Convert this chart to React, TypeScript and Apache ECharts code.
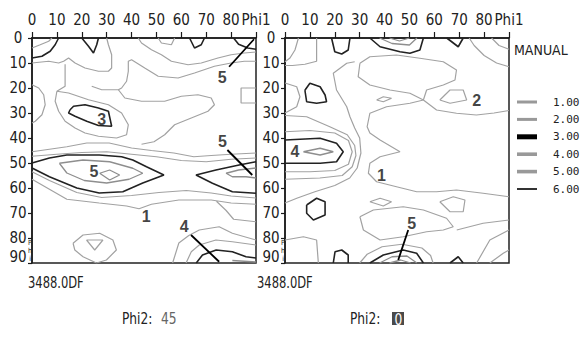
import React, { useEffect, useRef } from 'react';
import * as echarts from 'echarts';

type Pt = [number, number];
type Poly = Pt[];

const NARROW = '"DejaVu Sans Condensed", "Liberation Sans Narrow", "Liberation Sans", sans-serif';
const MONO = '"DejaVu Sans Mono", "Liberation Mono", monospace';

// ---- texts / ticks ----
const levelNames = ['1.00', '2.00', '3.00', '4.00', '5.00', '6.00'];
const phi1AxisName = 'Phi1';
const phiAxisName = 'Phi';
const legendTitle = 'MANUAL';
const panelCaption = '3488.0DF';
const phi2Label = 'Phi2:';
const phi2Values = ['45', '0'];

// ---- left section (Phi2 = 45) contour polylines [phi1, Phi] ----
const left1: Poly[] = [
  [[0, 4], [3.3, 2.7], [6.7, 1.3], [8, 0]],
  [[0, 10], [6.7, 9.3], [10.7, 10], [12.7, 9.3], [14.7, 8], [17.3, 10], [21.3, 12], [26.7, 13.3], [30.7, 13.3], [32, 12], [32, 6.7], [30.7, 2.7], [30, 0]],
  [[42.7, 0], [44, 2], [48, 4.7], [52, 6.7], [56, 9.3], [62.7, 10.7], [68, 10], [74.7, 8], [80, 6.7], [85.3, 6], [90, 5.6]],
  [[50.7, 0], [52, 2], [56, 2.7], [57.3, 0]],
  [[0, 18.7], [2.7, 20], [4.7, 22.7], [5.3, 26.7], [4, 30.7], [1.3, 33.3], [0, 34]],
  [[24, 19.3], [28, 20.7], [34.7, 20.7], [36, 20], [38, 17.3], [38.7, 13.3], [38.7, 9.3], [40, 8.7], [45.3, 12], [50.7, 15.3], [58.7, 16], [65.3, 14], [73.3, 11.3], [80, 10], [85.3, 9.3], [90, 9.3]],
  [[90, 20], [84, 20], [84, 26], [90, 26]],
  [[0, 47.3], [10, 46.5], [20, 45.8], [30, 45.5], [40, 46.5], [50, 47.5], [60, 49], [70, 49.5], [80, 48.5], [90, 48]],
  [[0, 56.5], [14, 64.5], [27, 66], [38, 67.2], [43, 68.3], [48, 66.5], [59, 64.8], [72, 64.8], [80, 66], [90, 66.5]],
  [[74, 65.2], [78, 69], [81, 72.5], [90, 73.5]],
  [[56.5, 90], [59, 82], [63, 79], [67.2, 76.8], [75.2, 75.5], [80.5, 78.1], [90, 80.8]],
  [[16.5, 82.1], [20.5, 78.8], [27.2, 78.1], [32.5, 80.8], [33.9, 84.8], [29.9, 88.8], [25.9, 90], [20.5, 87.5], [17.2, 84.8], [16.5, 82.1]],
];
const left2: Poly[] = [
  [[13.3, 10.5], [13.3, 19.3], [10, 21.3], [14.7, 22], [22.7, 24.7], [30.7, 26.7], [36, 30], [38.7, 34.7], [38, 38.7], [34, 40], [26.7, 39.3], [21.3, 38], [17.3, 36], [13.3, 33.3], [10.7, 29.3], [9.3, 25.3], [10, 21.3]],
  [[34.7, 20.7], [37.3, 24], [44, 25.3], [53.3, 25.3], [60, 23.3], [66.7, 22.7], [72, 24], [73.3, 26.7], [70.7, 29.3], [64, 32], [57.3, 34.7], [53.3, 38.7], [49, 41.5], [44, 42.5]],
  [[0, 45.5], [7, 44.5], [14, 43.5], [22, 42], [31, 42], [40, 44], [48, 45], [57, 46], [65, 47.5], [72, 47], [80, 46.5], [90, 46]],
  [[0, 53.5], [7, 57], [18, 61.8], [28, 63.8], [40, 63], [51, 61.8], [62, 61], [72, 62], [80, 63.2], [90, 64]],
  [[61.9, 90], [64, 85.5], [67.2, 82.8], [73.9, 80.8], [80.5, 81.5], [90, 82.8]],
  [[21.9, 80.8], [28.5, 80.8], [25.2, 84.8], [21.9, 80.8]],
];
const left3: Poly[] = [
  [[0, 8], [4, 7.3], [7.3, 5.3], [9.3, 2.7], [10.7, 0]],
  [[20, 0], [22.7, 3.3], [24.7, 6], [26, 2.7], [26.7, 0]],
  [[63.3, 0], [65.3, 4], [68, 2.7], [69.3, 0]],
  [[81, 0], [83, 2.5], [86.7, 4], [90, 4.5]],
  [[15.3, 28.7], [16.7, 27.3], [21.3, 26.7], [26.7, 28], [30.7, 29.3], [32, 35.3], [26.7, 35], [22, 33.3], [17.3, 31.3], [14.7, 30], [15.3, 28.7]],
  [[0, 50], [7, 48], [14, 46.8], [27, 46.8], [36, 47.5], [40.5, 48.8], [46, 51.5], [53, 54.8], [44.5, 58], [36.5, 61.5], [27, 62], [18, 60], [7, 55.5], [0, 52]],
  [[90, 49.5], [83.2, 50.8], [73.9, 52.8], [65.9, 54.8], [72.5, 58.1], [80.5, 61.5], [90, 62.1]],
  [[66, 90], [68.5, 86.8], [74, 84.8], [80.5, 85.5], [86, 87.5], [90, 88]],
];
const left4: Poly[] = [
  [[11, 50.1], [20.5, 48.8], [31.2, 49.5], [40.5, 52.1], [44.5, 54.1], [39, 56.5], [30, 58], [21, 57], [14, 54], [11, 50.1]],
  [[90, 52], [83, 52.8], [78, 54.1], [80.5, 55.5], [86, 55.5], [90, 56]],
  [[80.5, 89], [90, 89.6]],
];
const left5: Poly[] = [
  [[27.2, 54.1], [31.2, 52.8], [35.2, 54.8], [31.2, 56.8], [27.2, 54.1]],
];
const leftLeaders: Poly[] = [
  [[79.2, 11.5], [89.2, 0.5]],
  [[78.5, 44.8], [88.5, 54.8]],
  [[63.9, 78.8], [75.2, 89.5]],
];
const leftLabels: [number, number, string][] = [
  [76.4, 15.6, '5'], [28, 32.4, '3'], [24.9, 53.5, '5'], [76.5, 41.5, '5'], [45.9, 71.2, '1'], [61.2, 75.5, '4'],
];

// ---- right section (Phi2 = 0) ----
const right1: Poly[] = [
  [[12.7, 0], [12.7, 5], [12.7, 9.3], [8, 10.5], [3, 11], [0, 11]],
  [[28, 9.5], [24.8, 10.1], [19.4, 14.1], [20.7, 20.8], [24.8, 27.5], [26.1, 31.5], [28, 36], [30, 40], [30.5, 46], [29, 52], [26, 56], [20, 59], [12, 61.5], [5, 64], [0, 66]],
  [[0, 31], [8.7, 31.5], [18, 35.5], [25, 38.7], [28, 43], [28.5, 47], [27, 51.5], [23, 55], [14, 56], [0, 56.5]],
  [[30.1, 10.1], [29.4, 15.5], [34.1, 18.8], [42.2, 20.8], [50.2, 22.1], [55.6, 24.8], [60.9, 28.8], [68.9, 30.1], [76.9, 30.8], [84, 30], [90, 29]],
  [[30.1, 10.1], [34.1, 7.5], [44.8, 6.8], [54.2, 8.1], [63.6, 9.5], [68.9, 12.8], [68.3, 16.8], [63.6, 18.8], [56.9, 20.8], [55.6, 24.8], [50.2, 26.1], [40.8, 27.5], [34.1, 30.1], [33, 35.5], [34.1, 38], [38.2, 40.8], [46.2, 45.5], [38.2, 47.5], [34.1, 50.1], [33.5, 54.1], [36.8, 57.5], [44.8, 59.5], [52.9, 61.5], [60.9, 61.5], [68.9, 60.8], [79.6, 62.1], [90, 63.5]],
  [[74, 0], [76, 3], [80, 7], [85, 10], [90, 11.5]],
  [[30.1, 71.5], [35.5, 68.8], [47.5, 67.5], [55.6, 68.8], [64.9, 72.1], [67.6, 75.5], [63.6, 76.8], [56.9, 77.5], [47.5, 79.5], [38.2, 80.8], [31.5, 76.8], [30.1, 71.5]],
  [[0, 80.8], [7.4, 79.5], [12.7, 80.8], [13.4, 90]],
  [[77, 90], [82.3, 80.8], [90, 76.8]],
  [[82.3, 90], [87.7, 86.1], [90, 84.8]],
];
const right2: Poly[] = [
  [[5.4, 0], [4, 4.8], [2, 8], [0, 9.5]],
  [[83, 0], [86, 3], [90, 4.5]],
  [[0, 18], [4.7, 19.5], [6, 23.5], [4.7, 27.5], [0, 30]],
  [[0, 37.5], [10, 37], [20, 38], [25.5, 41], [27, 45.5], [25.5, 50.5], [20, 53], [10, 53.5], [0, 53.5]],
  [[36.8, 24.8], [39.5, 23.5], [42.8, 24.1], [39.5, 25.5], [36.8, 24.8]],
  [[62.2, 24.8], [66.3, 20.8], [71.6, 20.8], [73, 24.8], [66.3, 26.1], [62.2, 24.8]],
  [[34.1, 65.5], [38.2, 64.1], [42.8, 65.5], [39.5, 67.2], [34.1, 65.5]],
  [[62.2, 65.5], [67.6, 63.5], [72.3, 64.8], [71.6, 69.5], [66.3, 69.5], [62.2, 65.5]],
  [[30, 90], [33, 86.5], [39, 83.5], [47, 82.5], [55, 84], [58.5, 87], [59.5, 90]],
  [[69, 76.8], [79.6, 74.1], [90, 72.8]],
];
const right3: Poly[] = [
  [[18.7, 0], [20, 5.5], [22.8, 6.4], [25.4, 4.8], [26.1, 0]],
  [[34.1, 0], [38.2, 3.5], [46.2, 5.5], [50.2, 6.1], [54.2, 4.8], [55.6, 0]],
  [[65, 0], [69.6, 3.5], [71.6, 0]],
  [[8, 20.9], [10, 18.1], [14.1, 19.5], [16.1, 22.8], [16.7, 25.5], [12.7, 26.1], [8.7, 25.5], [8, 20.9]],
  [[0, 40.8], [14.1, 40.1], [20.7, 42.1], [23.4, 45.5], [20.7, 49.5], [14.1, 50.1], [0, 50.1]],
  [[8.7, 66.8], [12.7, 64.1], [16.1, 65.5], [16.1, 70.8], [11.4, 72.8], [8.7, 70.1], [8.7, 66.8]],
  [[34.1, 90], [39.5, 86.8], [47.5, 84.8], [52.9, 86.1], [55.6, 90]],
  [[19.4, 90], [20.1, 85.5], [22.8, 84.8], [25.4, 86.8], [25.4, 90]],
  [[66.3, 90], [69.6, 87.5], [71.6, 90]],
];
const right4: Poly[] = [
  [[38, 0], [43, 2.2], [50, 2.8], [53, 0]],
  [[7.4, 45.5], [14.1, 44.1], [19.4, 45.5], [14.1, 46.8], [7.4, 45.5]],
  [[38, 90], [43, 87.5], [49, 87.2], [53, 90]],
];
const right5: Poly[] = [
  [[42, 0], [46, 1.2], [50, 0]],
  [[42, 90], [46.5, 88.8], [50.5, 90]],
];
const rightLeaders: Poly[] = [
  [[49.5, 76.8], [45.5, 88.8]],
];
const rightLabels: [number, number, string][] = [
  [77, 24.8, '2'], [4, 45.5, '4'], [38.8, 54.8, '1'], [50.9, 74.1, '5'],
];

const panels = [
  { levels: [left1, left2, left3, left4, left5, []], leaders: leftLeaders, labels: leftLabels },
  { levels: [right1, right2, right3, right4, right5, []], leaders: rightLeaders, labels: rightLabels },
];

const levelStyle = [
  { color: '#a2a2a2', width: 1.2 },
  { color: '#a2a2a2', width: 1.2 },
  { color: '#222222', width: 1.6 },
  { color: '#8e8e8e', width: 1.3 },
  { color: '#8e8e8e', width: 1.3 },
  { color: '#333333', width: 1.2 },
];
const legendStyle = [
  { color: '#999999', path: 'path://M0,0M0,2.5H20V5.5H0ZM20,8' },
  { color: '#999999', path: 'path://M0,0M0,2.5H20V5.5H0ZM20,8' },
  { color: '#000000', path: 'path://M0,0M0,1.5H20V6.5H0ZM20,8' },
  { color: '#999999', path: 'path://M0,0M0,2.2H20V5.8H0ZM20,8' },
  { color: '#999999', path: 'path://M0,0M0,2.2H20V5.8H0ZM20,8' },
  { color: '#333333', path: 'path://M0,0M0,3H20V5H0ZM20,8' },
];

function joinPolys(polys: Poly[]): any[] {
  const out: any[] = [];
  polys.forEach((p, i) => {
    if (i > 0) out.push(['-', '-']);
    p.forEach((pt) => out.push(pt));
  });
  return out;
}

const grids = [
  { left: 32, top: 38, width: 224, height: 225 },
  { left: 285, top: 38, width: 224, height: 225 },
];

function buildOption(): any {
  const series: any[] = [];
  panels.forEach((panel, gi) => {
    panel.levels.forEach((polys, li) => {
      series.push({
        type: 'line',
        name: levelNames[li],
        xAxisIndex: gi,
        yAxisIndex: gi,
        data: joinPolys(polys as Poly[]),
        symbol: 'none',
        showSymbol: false,
        connectNulls: false,
        silent: true,
        color: levelStyle[li].color,
        lineStyle: { color: levelStyle[li].color, width: levelStyle[li].width },
        z: 2 + (li === 2 ? 1 : 0),
      });
    });
    series.push({
      type: 'line',
      name: 'leader',
      xAxisIndex: gi,
      yAxisIndex: gi,
      data: joinPolys(panel.leaders),
      symbol: 'none',
      silent: true,
      lineStyle: { color: '#000', width: 1.8 },
      z: 5,
    });
    series.push({
      type: 'scatter',
      name: 'labels',
      xAxisIndex: gi,
      yAxisIndex: gi,
      data: panel.labels.map((l) => ({ value: [l[0], l[1]], name: l[2] })),
      symbolSize: 1,
      itemStyle: { color: 'rgba(0,0,0,0)' },
      silent: true,
      z: 6,
      label: {
        show: true,
        position: 'inside',
        formatter: '{b}',
        fontFamily: '"Liberation Sans", Arial, sans-serif',
        fontWeight: 'bold',
        fontSize: 16,
        color: '#111',
      },
    });
  });

  const axisColor = '#1a1a1a';
  const xAxis = grids.map((_, i) => ({
    type: 'value',
    gridIndex: i,
    position: 'top',
    min: 0,
    max: 90,
    interval: 10,
    axisLine: { show: true, onZero: false, lineStyle: { color: axisColor, width: 1.5 } },
    axisTick: { show: true, length: 6, lineStyle: { color: axisColor, width: 1.2 } },
    splitLine: { show: false },
    axisLabel: {
      margin: 11,
      color: '#222',
      fontFamily: NARROW,
      fontSize: 15,
      showMinLabel: true,
      showMaxLabel: true,
      hideOverlap: false,
      formatter: (v: number) => (v === 90 ? phi1AxisName : String(v)),
    },
  }));
  const yAxis = grids.map((_, i) => ({
    type: 'value',
    gridIndex: i,
    inverse: true,
    min: 0,
    max: 90,
    interval: 10,
    axisLine: { show: true, onZero: false, lineStyle: { color: axisColor, width: 1.5 } },
    axisTick: { show: true, length: 4, lineStyle: { color: axisColor, width: 1.2 } },
    splitLine: { show: false },
    axisLabel: {
      margin: 14,
      align: 'center',
      color: '#222',
      fontFamily: NARROW,
      fontSize: 15,
      showMinLabel: true,
      showMaxLabel: true,
      formatter: (v: number) => (v === 90 ? `{b|${v}}` : String(v)),
      rich: { b: { padding: [0, 0, 12, 0], fontFamily: NARROW, fontSize: 15, color: '#222' } },
    },
  }));

  const cap = { fontFamily: NARROW, fontSize: 16, fill: '#222', verticalAlign: 'top' };
  const phiStack = { fontFamily: NARROW, fontSize: 7, lineHeight: 8, fill: '#222', align: 'center', verticalAlign: 'top', text: phiAxisName.split('').join('\n') };
  const graphic: any[] = [
    { type: 'text', x: 28, y: 274, scaleX: 0.8, style: { ...cap, text: panelCaption } },
    { type: 'text', x: 257, y: 274, scaleX: 0.8, style: { ...cap, text: panelCaption } },
    { type: 'text', x: 122, y: 310, scaleX: 0.85, style: { ...cap, text: phi2Label } },
    { type: 'text', x: 161, y: 310, scaleX: 0.85, style: { ...cap, text: phi2Values[0], fill: '#666' } },
    { type: 'text', x: 350, y: 310, scaleX: 0.85, style: { ...cap, text: phi2Label } },
    { type: 'rect', shape: { x: 392, y: 312, width: 12, height: 13 }, style: { fill: '#4a4a4a' } },
    { type: 'text', x: 394.5, y: 311, scaleX: 0.85, style: { ...cap, text: phi2Values[1], fill: '#fff' } },
    { type: 'text', x: 30, y: 239, style: { ...phiStack } },
    { type: 'text', x: 283, y: 239, style: { ...phiStack } },
  ];

  return {
    animation: false,
    backgroundColor: '#ffffff',
    title: {
      text: legendTitle,
      left: 514,
      top: 43,
      padding: 0,
      textStyle: { fontFamily: NARROW, fontSize: 14, fontWeight: 'normal', color: '#222' },
    },
    legend: {
      orient: 'vertical',
      left: 517,
      top: 95,
      padding: 0,
      itemGap: 3.4,
      itemWidth: 20,
      itemHeight: 8,
      selectedMode: false,
      textStyle: { fontFamily: MONO, fontSize: 11, color: '#222', lineHeight: 14, padding: [0, 0, 0, 11] },
      data: levelNames.map((n, i) => ({
        name: n,
        icon: legendStyle[i].path,
        itemStyle: { color: legendStyle[i].color, borderWidth: 0 },
      })),
    },
    grid: grids.map((g) => ({ ...g, show: true, borderColor: '#222', borderWidth: 1.5, backgroundColor: 'transparent' })),
    xAxis,
    yAxis,
    series,
    graphic,
  };
}

export default function App() {
  const ref = useRef<HTMLDivElement>(null);
  useEffect(() => {
    if (!ref.current) return;
    const chart = echarts.init(ref.current, null, { renderer: 'svg', width: 581, height: 338 });
    chart.setOption(buildOption());
    return () => chart.dispose();
  }, []);
  return (
    <div
      ref={ref}
      style={{ position: 'fixed', left: 0, top: 0, width: 581, height: 338, background: '#fff' }}
    />
  );
}
